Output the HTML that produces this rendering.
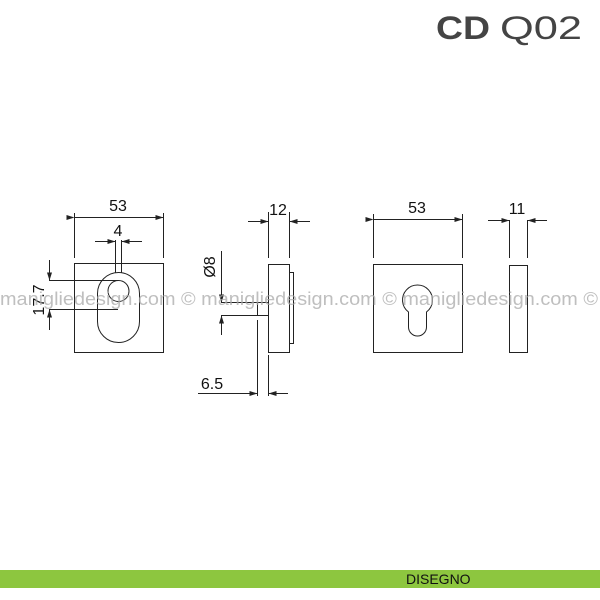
<!DOCTYPE html>
<html><head><style>
body{margin:0;background:#fff;width:600px;height:600px;overflow:hidden;position:relative;font-family:"Liberation Sans",sans-serif}
</style></head><body>
<svg width="600" height="600" viewBox="0 0 600 600" style="position:absolute;left:0;top:0">
<defs>
<marker id="a" markerWidth="8" markerHeight="6" refX="8" refY="3" orient="auto" markerUnits="userSpaceOnUse"><path d="M0,0.5 L8,3 L0,5.5z" fill="#222"/></marker>
</defs>
<text x="436" y="39" font-family="Liberation Sans" font-weight="bold" font-size="32" fill="#444" textLength="54" lengthAdjust="spacingAndGlyphs">CD</text>
<text x="500" y="39" font-family="Liberation Sans" font-size="32" fill="#444" textLength="82" lengthAdjust="spacingAndGlyphs">Q02</text>
<g stroke="#222" stroke-width="1" fill="none">
<rect x="74.5" y="263.5" width="89" height="89"/>
<rect x="97.5" y="272.5" width="42" height="70" rx="21"/>
<circle cx="118.5" cy="291" r="10.5"/>
<line x1="115.5" y1="240" x2="115.5" y2="273"/><line x1="121.5" y1="240" x2="121.5" y2="273"/>
<line x1="74.5" y1="213" x2="74.5" y2="258"/><line x1="163.5" y1="213" x2="163.5" y2="258"/>
<line x1="74.5" y1="217.5" x2="163.5" y2="217.5" marker-start="url(#a)" marker-end="url(#a)"/>
<line x1="95" y1="241.5" x2="115.5" y2="241.5" marker-end="url(#a)"/>
<line x1="142" y1="241.5" x2="121.5" y2="241.5" marker-end="url(#a)"/>
<line x1="49" y1="280.5" x2="118" y2="280.5"/><line x1="49" y1="309.5" x2="118" y2="309.5"/>
<line x1="49.5" y1="260" x2="49.5" y2="280.5" marker-end="url(#a)"/>
<line x1="49.5" y1="330" x2="49.5" y2="309.5" marker-end="url(#a)"/>
<rect x="268.5" y="264.5" width="21" height="88"/>
<rect x="289.5" y="272.5" width="4" height="71"/>
<rect x="257.5" y="302.5" width="11" height="13"/>
<line x1="221" y1="302.5" x2="257.5" y2="302.5"/><line x1="221" y1="315.5" x2="257.5" y2="315.5"/>
<line x1="221.5" y1="251" x2="221.5" y2="302.5" marker-end="url(#a)"/>
<line x1="221.5" y1="335" x2="221.5" y2="315.5" marker-end="url(#a)"/>
<line x1="268.5" y1="212" x2="268.5" y2="258"/><line x1="289.5" y1="212" x2="289.5" y2="258"/>
<line x1="248" y1="221.5" x2="268.5" y2="221.5" marker-end="url(#a)"/>
<line x1="310" y1="221.5" x2="289.5" y2="221.5" marker-end="url(#a)"/>
<line x1="257.5" y1="320" x2="257.5" y2="396"/><line x1="268.5" y1="355" x2="268.5" y2="396"/>
<line x1="198" y1="393.5" x2="257.5" y2="393.5" marker-end="url(#a)"/>
<line x1="288" y1="393.5" x2="268.5" y2="393.5" marker-end="url(#a)"/>
<rect x="373.5" y="264.5" width="89" height="88"/>
<path d="M408.5,312 A15,15 0 1 1 426.5,312 L426.5,327 A9,9 0 0 1 408.5,327 Z"/>
<line x1="373.5" y1="214" x2="373.5" y2="258"/><line x1="462.5" y1="214" x2="462.5" y2="258"/>
<line x1="373.5" y1="219.5" x2="462.5" y2="219.5" marker-start="url(#a)" marker-end="url(#a)"/>
<rect x="509.5" y="265.5" width="18" height="87"/>
<line x1="509.5" y1="220" x2="509.5" y2="258"/><line x1="527.5" y1="220" x2="527.5" y2="258"/>
<line x1="488" y1="220.5" x2="509.5" y2="220.5" marker-end="url(#a)"/>
<line x1="547" y1="220.5" x2="527.5" y2="220.5" marker-end="url(#a)"/>
</g>
<g font-family="Liberation Sans" font-size="16" fill="#111" text-anchor="middle">
<text x="118" y="211">53</text>
<text x="118" y="236">4</text>
<text x="278" y="215">12</text>
<text x="417" y="213">53</text>
<text x="517" y="214">11</text>
<text x="212" y="389">6.5</text>
<text transform="translate(44,300) rotate(-90)">17.7</text>
<text transform="translate(215,267) rotate(-90)">Ø8</text>
</g>
<text x="0" y="305" font-family="Liberation Sans" font-size="18" fill="#aaa" fill-opacity="0.75" textLength="598" lengthAdjust="spacingAndGlyphs">manigliedesign.com © manigliedesign.com © manigliedesign.com ©</text>
<rect x="0" y="570" width="600" height="18" fill="#8dc63f"/>
<text x="406" y="584" font-family="Liberation Sans" font-size="14" fill="#111">DISEGNO</text>
</svg>
</body></html>
